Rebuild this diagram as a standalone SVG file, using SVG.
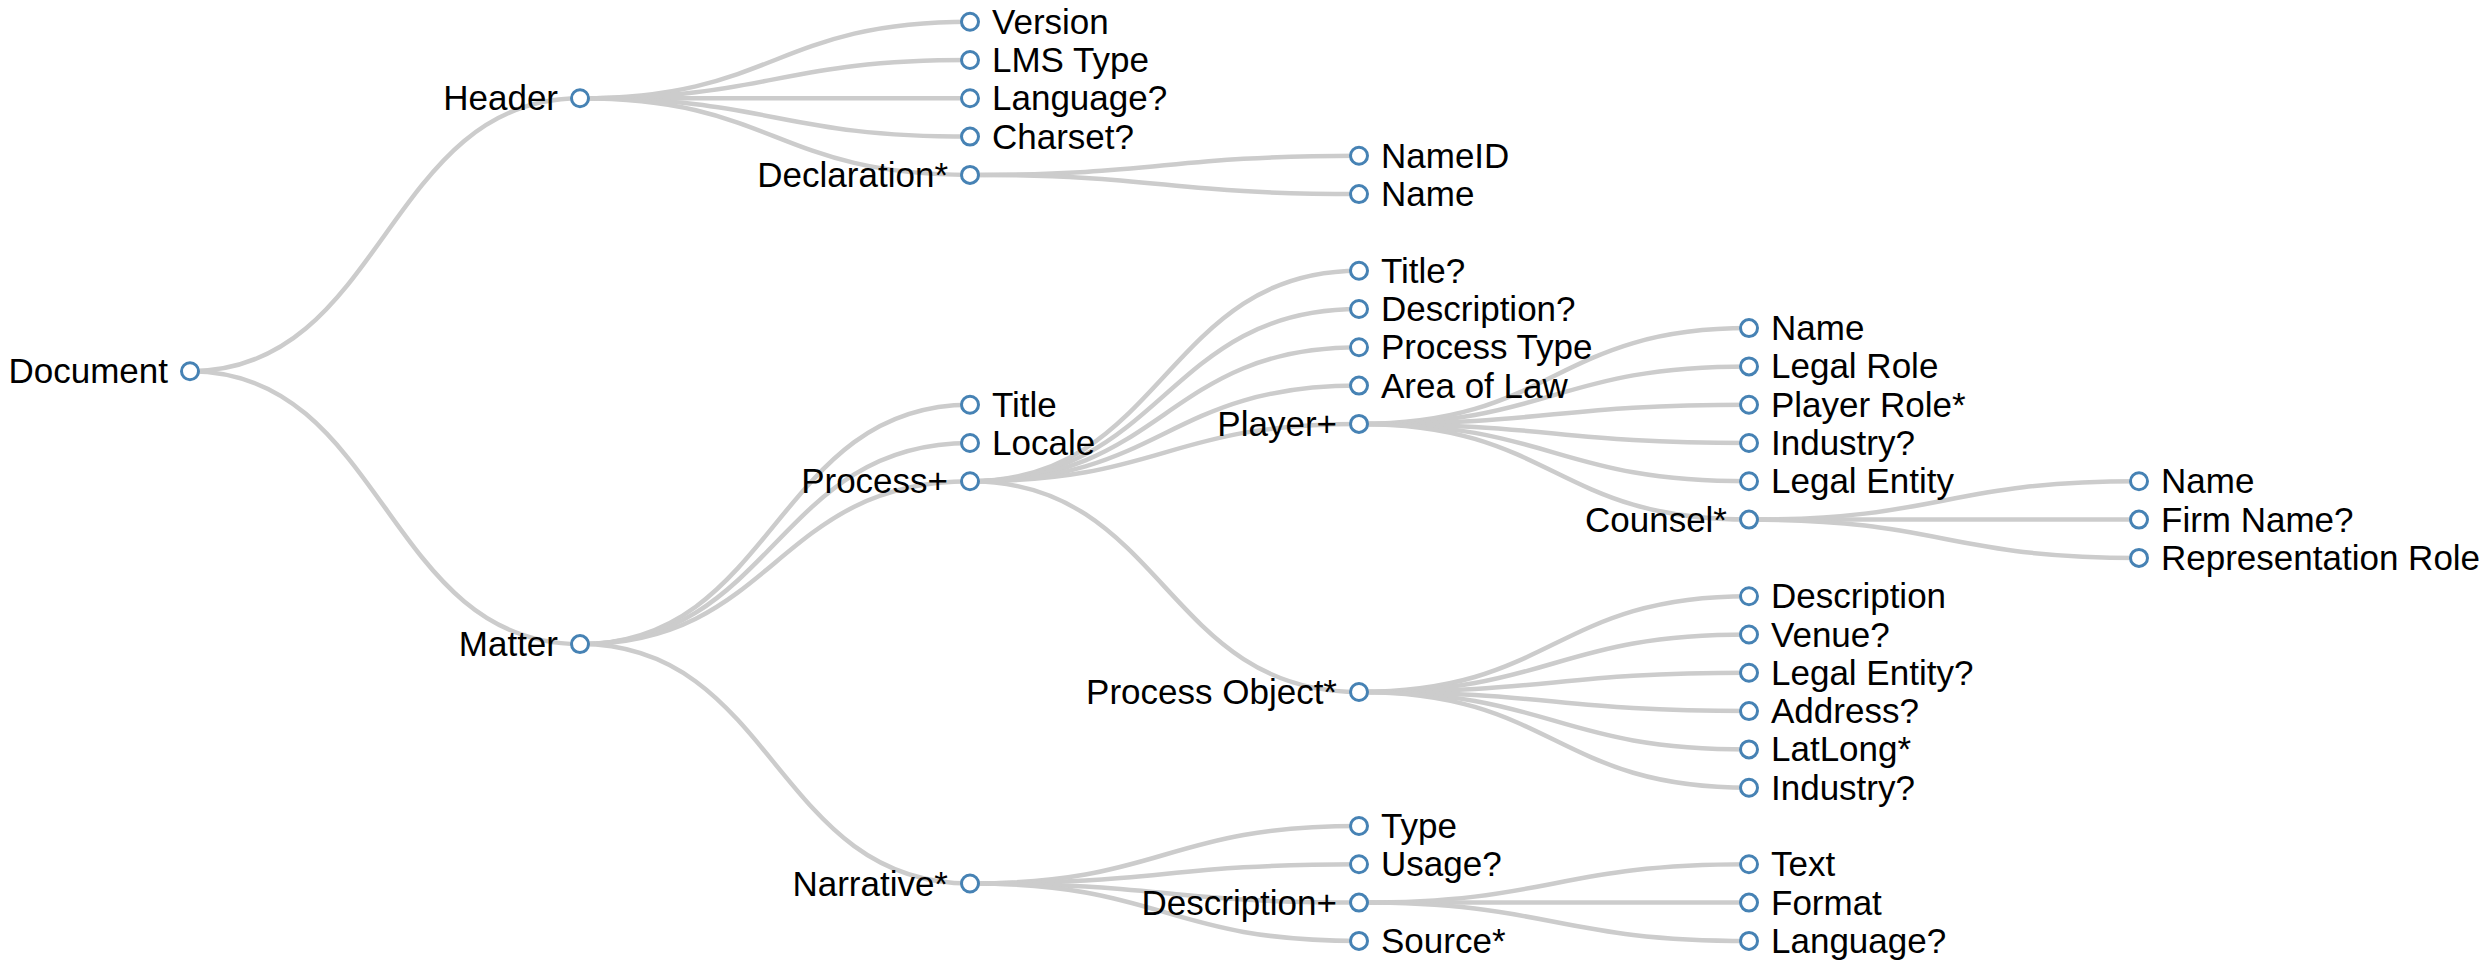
<svg xmlns="http://www.w3.org/2000/svg" width="2492" height="963" viewBox="0 0 2492 963">
<style>
.link{fill:none;stroke:#cccccc;stroke-width:4.5}
.node circle{fill:#ffffff;stroke:#4682b4;stroke-width:3}
.node text{font-family:"Liberation Sans",Arial,sans-serif;font-size:35px;fill:#000000}
.leaf text{text-anchor:start}
.inner text{text-anchor:end}
</style>
<rect width="2492" height="963" fill="#ffffff"/>
<g id="links">
<path class="link" d="M190,371.2 C385,371.2 385,98.3 580,98.3"/>
<path class="link" d="M190,371.2 C385,371.2 385,644.1 580,644.1"/>
<path class="link" d="M580,98.3 C775,98.3 775,21.7 970,21.7"/>
<path class="link" d="M580,98.3 C775,98.3 775,60 970,60"/>
<path class="link" d="M580,98.3 C775,98.3 775,98.3 970,98.3"/>
<path class="link" d="M580,98.3 C775,98.3 775,136.6 970,136.6"/>
<path class="link" d="M580,98.3 C775,98.3 775,174.9 970,174.9"/>
<path class="link" d="M970,174.9 C1164.5,174.9 1164.5,155.8 1359,155.8"/>
<path class="link" d="M970,174.9 C1164.5,174.9 1164.5,194.1 1359,194.1"/>
<path class="link" d="M580,644.1 C775,644.1 775,404.7 970,404.7"/>
<path class="link" d="M580,644.1 C775,644.1 775,443 970,443"/>
<path class="link" d="M580,644.1 C775,644.1 775,481.3 970,481.3"/>
<path class="link" d="M580,644.1 C775,644.1 775,883.5 970,883.5"/>
<path class="link" d="M970,481.3 C1164.5,481.3 1164.5,270.7 1359,270.7"/>
<path class="link" d="M970,481.3 C1164.5,481.3 1164.5,309 1359,309"/>
<path class="link" d="M970,481.3 C1164.5,481.3 1164.5,347.3 1359,347.3"/>
<path class="link" d="M970,481.3 C1164.5,481.3 1164.5,385.6 1359,385.6"/>
<path class="link" d="M970,481.3 C1164.5,481.3 1164.5,423.9 1359,423.9"/>
<path class="link" d="M970,481.3 C1164.5,481.3 1164.5,692 1359,692"/>
<path class="link" d="M1359,423.9 C1554,423.9 1554,328.1 1749,328.1"/>
<path class="link" d="M1359,423.9 C1554,423.9 1554,366.4 1749,366.4"/>
<path class="link" d="M1359,423.9 C1554,423.9 1554,404.7 1749,404.7"/>
<path class="link" d="M1359,423.9 C1554,423.9 1554,443 1749,443"/>
<path class="link" d="M1359,423.9 C1554,423.9 1554,481.3 1749,481.3"/>
<path class="link" d="M1359,423.9 C1554,423.9 1554,519.6 1749,519.6"/>
<path class="link" d="M1749,519.6 C1944,519.6 1944,481.3 2139,481.3"/>
<path class="link" d="M1749,519.6 C1944,519.6 1944,519.6 2139,519.6"/>
<path class="link" d="M1749,519.6 C1944,519.6 1944,557.9 2139,557.9"/>
<path class="link" d="M1359,692 C1554,692 1554,596.2 1749,596.2"/>
<path class="link" d="M1359,692 C1554,692 1554,634.5 1749,634.5"/>
<path class="link" d="M1359,692 C1554,692 1554,672.8 1749,672.8"/>
<path class="link" d="M1359,692 C1554,692 1554,711.1 1749,711.1"/>
<path class="link" d="M1359,692 C1554,692 1554,749.4 1749,749.4"/>
<path class="link" d="M1359,692 C1554,692 1554,787.7 1749,787.7"/>
<path class="link" d="M970,883.5 C1164.5,883.5 1164.5,826 1359,826"/>
<path class="link" d="M970,883.5 C1164.5,883.5 1164.5,864.3 1359,864.3"/>
<path class="link" d="M970,883.5 C1164.5,883.5 1164.5,902.6 1359,902.6"/>
<path class="link" d="M970,883.5 C1164.5,883.5 1164.5,940.9 1359,940.9"/>
<path class="link" d="M1359,902.6 C1554,902.6 1554,864.3 1749,864.3"/>
<path class="link" d="M1359,902.6 C1554,902.6 1554,902.6 1749,902.6"/>
<path class="link" d="M1359,902.6 C1554,902.6 1554,940.9 1749,940.9"/>
</g>
<g id="n-document" class="node inner" transform="translate(190,371.2)"><circle r="8.5"/><text x="-22" y="12">Document</text></g>
<g id="n-header" class="node inner" transform="translate(580,98.3)"><circle r="8.5"/><text x="-22" y="12">Header</text></g>
<g id="n-matter" class="node inner" transform="translate(580,644.1)"><circle r="8.5"/><text x="-22" y="12">Matter</text></g>
<g id="n-version" class="node leaf" transform="translate(970,21.7)"><circle r="8.5"/><text x="22" y="12">Version</text></g>
<g id="n-lmstype" class="node leaf" transform="translate(970,60)"><circle r="8.5"/><text x="22" y="12">LMS Type</text></g>
<g id="n-language" class="node leaf" transform="translate(970,98.3)"><circle r="8.5"/><text x="22" y="12">Language?</text></g>
<g id="n-charset" class="node leaf" transform="translate(970,136.6)"><circle r="8.5"/><text x="22" y="12">Charset?</text></g>
<g id="n-declaration" class="node inner" transform="translate(970,174.9)"><circle r="8.5"/><text x="-22" y="12">Declaration*</text></g>
<g id="n-nameid" class="node leaf" transform="translate(1359,155.8)"><circle r="8.5"/><text x="22" y="12">NameID</text></g>
<g id="n-decl-name" class="node leaf" transform="translate(1359,194.1)"><circle r="8.5"/><text x="22" y="12">Name</text></g>
<g id="n-title" class="node leaf" transform="translate(970,404.7)"><circle r="8.5"/><text x="22" y="12">Title</text></g>
<g id="n-locale" class="node leaf" transform="translate(970,443)"><circle r="8.5"/><text x="22" y="12">Locale</text></g>
<g id="n-process" class="node inner" transform="translate(970,481.3)"><circle r="8.5"/><text x="-22" y="12">Process+</text></g>
<g id="n-narrative" class="node inner" transform="translate(970,883.5)"><circle r="8.5"/><text x="-22" y="12">Narrative*</text></g>
<g id="n-ptitle" class="node leaf" transform="translate(1359,270.7)"><circle r="8.5"/><text x="22" y="12">Title?</text></g>
<g id="n-pdescription" class="node leaf" transform="translate(1359,309)"><circle r="8.5"/><text x="22" y="12">Description?</text></g>
<g id="n-processtype" class="node leaf" transform="translate(1359,347.3)"><circle r="8.5"/><text x="22" y="12">Process Type</text></g>
<g id="n-areaoflaw" class="node leaf" transform="translate(1359,385.6)"><circle r="8.5"/><text x="22" y="12">Area of Law</text></g>
<g id="n-player" class="node inner" transform="translate(1359,423.9)"><circle r="8.5"/><text x="-22" y="12">Player+</text></g>
<g id="n-processobject" class="node inner" transform="translate(1359,692)"><circle r="8.5"/><text x="-22" y="12">Process Object*</text></g>
<g id="n-player-name" class="node leaf" transform="translate(1749,328.1)"><circle r="8.5"/><text x="22" y="12">Name</text></g>
<g id="n-legalrole" class="node leaf" transform="translate(1749,366.4)"><circle r="8.5"/><text x="22" y="12">Legal Role</text></g>
<g id="n-playerrole" class="node leaf" transform="translate(1749,404.7)"><circle r="8.5"/><text x="22" y="12">Player Role*</text></g>
<g id="n-player-industry" class="node leaf" transform="translate(1749,443)"><circle r="8.5"/><text x="22" y="12">Industry?</text></g>
<g id="n-legalentity" class="node leaf" transform="translate(1749,481.3)"><circle r="8.5"/><text x="22" y="12">Legal Entity</text></g>
<g id="n-counsel" class="node inner" transform="translate(1749,519.6)"><circle r="8.5"/><text x="-22" y="12">Counsel*</text></g>
<g id="n-counsel-name" class="node leaf" transform="translate(2139,481.3)"><circle r="8.5"/><text x="22" y="12">Name</text></g>
<g id="n-firmname" class="node leaf" transform="translate(2139,519.6)"><circle r="8.5"/><text x="22" y="12">Firm Name?</text></g>
<g id="n-reprole" class="node leaf" transform="translate(2139,557.9)"><circle r="8.5"/><text x="22" y="12">Representation Role</text></g>
<g id="n-po-description" class="node leaf" transform="translate(1749,596.2)"><circle r="8.5"/><text x="22" y="12">Description</text></g>
<g id="n-venue" class="node leaf" transform="translate(1749,634.5)"><circle r="8.5"/><text x="22" y="12">Venue?</text></g>
<g id="n-po-legalentity" class="node leaf" transform="translate(1749,672.8)"><circle r="8.5"/><text x="22" y="12">Legal Entity?</text></g>
<g id="n-address" class="node leaf" transform="translate(1749,711.1)"><circle r="8.5"/><text x="22" y="12">Address?</text></g>
<g id="n-latlong" class="node leaf" transform="translate(1749,749.4)"><circle r="8.5"/><text x="22" y="12">LatLong*</text></g>
<g id="n-po-industry" class="node leaf" transform="translate(1749,787.7)"><circle r="8.5"/><text x="22" y="12">Industry?</text></g>
<g id="n-type" class="node leaf" transform="translate(1359,826)"><circle r="8.5"/><text x="22" y="12">Type</text></g>
<g id="n-usage" class="node leaf" transform="translate(1359,864.3)"><circle r="8.5"/><text x="22" y="12">Usage?</text></g>
<g id="n-ndescription" class="node inner" transform="translate(1359,902.6)"><circle r="8.5"/><text x="-22" y="12">Description+</text></g>
<g id="n-source" class="node leaf" transform="translate(1359,940.9)"><circle r="8.5"/><text x="22" y="12">Source*</text></g>
<g id="n-text" class="node leaf" transform="translate(1749,864.3)"><circle r="8.5"/><text x="22" y="12">Text</text></g>
<g id="n-format" class="node leaf" transform="translate(1749,902.6)"><circle r="8.5"/><text x="22" y="12">Format</text></g>
<g id="n-n-language" class="node leaf" transform="translate(1749,940.9)"><circle r="8.5"/><text x="22" y="12">Language?</text></g>
</svg>
